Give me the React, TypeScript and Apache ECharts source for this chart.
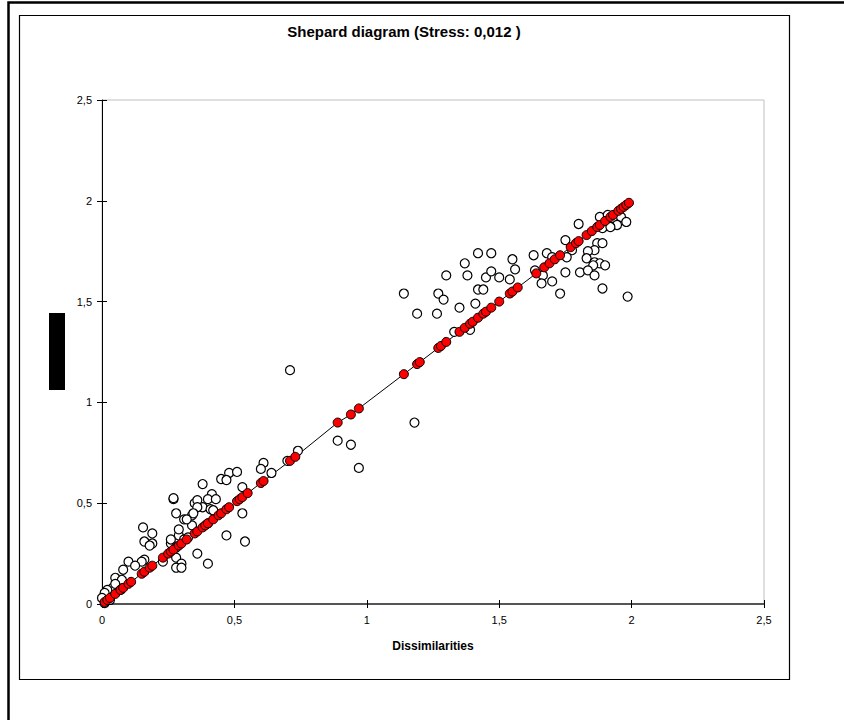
import React, { useEffect, useRef } from "react";
import * as echarts from "echarts";

const TITLE = "Shepard diagram (Stress: 0,012 )";
const X_NAME = "Dissimilarities";

// Distances (white points)
const distX = [
  0.28, 0.27, 0.35, 0.38, 0.41, 0.31, 0.34, 0.34, 0.155, 0.19, 0.16, 0.19, 0.29, 0.31, 0.26, 0.28,
  0.36, 0.4, 0.23, 0.28, 0.3, 0.28, 0.3, 0.16, 0.15, 0.1, 0.125, 0.08, 0.05, 0.075, 0.04, 0.02,
  0.01, 0.0, 0.01, 0.03, 0.05, 0.07, 0.74, 0.7, 0.64, 0.61, 0.6, 0.48, 0.51, 0.45, 0.47, 0.38,
  0.53, 0.27, 0.36, 0.415, 0.4, 0.43, 0.36, 0.42, 0.345, 0.32, 0.53, 0.29, 0.4, 0.47, 0.54, 0.26,
  0.325, 0.18, 0.71, 0.89, 0.94, 0.97, 1.18, 1.14, 1.19, 1.265, 1.27, 1.29, 1.3, 1.35, 1.37, 1.38,
  1.41, 1.42, 1.45, 1.47, 1.47, 1.5, 1.42, 1.44, 1.54, 1.55, 1.56, 1.39, 1.33, 1.88, 1.91, 1.93,
  1.96, 1.98, 1.945, 1.89, 1.92, 1.8, 1.87, 1.86, 1.835, 1.89, 1.75, 1.775, 1.755, 1.68, 1.7, 1.63,
  1.83, 1.86, 1.88, 1.9, 1.855, 1.635, 1.665, 1.66, 1.7, 1.75, 1.805, 1.835, 1.86, 1.73, 1.89, 1.985,
];
const distY = [
  0.45, 0.52, 0.5, 0.48, 0.47, 0.42, 0.44, 0.39, 0.38, 0.35, 0.31, 0.3, 0.34, 0.32, 0.3, 0.28,
  0.25, 0.2, 0.21, 0.23, 0.2, 0.18, 0.18, 0.22, 0.21, 0.21, 0.19, 0.17, 0.13, 0.12, 0.08, 0.07,
  0.055, 0.03, 0.005, 0.02, 0.1, 0.07, 0.76, 0.71, 0.65, 0.7, 0.67, 0.65, 0.655, 0.62, 0.615, 0.595,
  0.58, 0.525, 0.515, 0.545, 0.52, 0.52, 0.48, 0.465, 0.45, 0.42, 0.45, 0.37, 0.4, 0.34, 0.31, 0.32,
  0.33, 0.29, 1.16, 0.81, 0.79, 0.675, 0.9, 1.54, 1.44, 1.44, 1.54, 1.51, 1.63, 1.47, 1.69, 1.63,
  1.49, 1.74, 1.62, 1.74, 1.65, 1.62, 1.56, 1.56, 1.61, 1.71, 1.66, 1.36, 1.35, 1.92, 1.93, 1.915,
  1.92, 1.895, 1.88, 1.865, 1.87, 1.885, 1.79, 1.755, 1.75, 1.79, 1.805, 1.755, 1.72, 1.74, 1.72, 1.73,
  1.715, 1.695, 1.69, 1.68, 1.68, 1.655, 1.63, 1.59, 1.6, 1.645, 1.645, 1.655, 1.63, 1.54, 1.565, 1.525,
];

// Disparities (red points, joined by the line)
const dispX = [
  0.01, 0.02, 0.03, 0.05, 0.07, 0.08, 0.1, 0.11, 0.15, 0.16, 0.18, 0.19, 0.23, 0.25, 0.26, 0.27,
  0.29, 0.3, 0.32, 0.35, 0.36, 0.38, 0.39, 0.4, 0.42, 0.44, 0.45, 0.47, 0.48, 0.51, 0.52, 0.53,
  0.55, 0.6, 0.61, 0.71, 0.73, 0.89, 0.94, 0.97, 1.14, 1.19, 1.2, 1.27, 1.28, 1.3, 1.35, 1.37,
  1.39, 1.4, 1.42, 1.44, 1.45, 1.47, 1.5, 1.54, 1.55, 1.57, 1.64, 1.67, 1.69, 1.71, 1.73, 1.77,
  1.79, 1.8, 1.83, 1.85, 1.87, 1.88, 1.9, 1.92, 1.93, 1.95, 1.96, 1.97, 1.98, 1.99,
];
const dispY = [
  0.01, 0.02, 0.03, 0.05, 0.07, 0.08, 0.1, 0.11, 0.15, 0.16, 0.18, 0.19, 0.23, 0.25, 0.26, 0.27,
  0.29, 0.3, 0.32, 0.35, 0.36, 0.38, 0.39, 0.4, 0.42, 0.44, 0.45, 0.47, 0.48, 0.51, 0.52, 0.53,
  0.55, 0.6, 0.61, 0.71, 0.73, 0.9, 0.94, 0.97, 1.14, 1.19, 1.2, 1.27, 1.28, 1.3, 1.35, 1.37,
  1.39, 1.4, 1.42, 1.44, 1.45, 1.47, 1.5, 1.54, 1.55, 1.57, 1.64, 1.67, 1.69, 1.71, 1.73, 1.77,
  1.79, 1.8, 1.83, 1.85, 1.87, 1.88, 1.9, 1.92, 1.93, 1.95, 1.96, 1.97, 1.98, 1.99,
];

const FONT = "Arial, 'Liberation Sans', sans-serif";
const fmt = (v: number) => String(v).replace(".", ",");

export default function App() {
  const ref = useRef<HTMLDivElement>(null);
  useEffect(() => {
    if (!ref.current) return;
    const chart = echarts.init(ref.current, undefined, { renderer: "svg" });
    const dist = distX.map((x, i) => [x, distY[i]]);
    const disp = dispX.map((x, i) => [x, dispY[i]]);
    const baseAxis = {
      type: "value" as const,
      min: 0,
      max: 2.5,
      interval: 0.5,
      splitLine: { show: false },
    };
    chart.setOption({
      animation: false,
      backgroundColor: "#ffffff",
      grid: {
        left: 102,
        top: 100,
        width: 662,
        height: 504,
        show: true,
        borderColor: "#c0c0c0",
        borderWidth: 1,
        backgroundColor: "transparent",
      },
      xAxis: [
        {
          ...baseAxis,
          position: "bottom",
          axisLine: { show: true, lineStyle: { color: "#555555", width: 2 } },
          axisTick: { show: true, inside: false, length: 4, lineStyle: { color: "#000", width: 1 } },
          axisLabel: { color: "#000", fontSize: 11, fontFamily: FONT, margin: 10, formatter: fmt },
        },
        {
          ...baseAxis,
          position: "bottom",
          axisLine: { show: false },
          axisTick: { show: true, inside: true, length: 4, lineStyle: { color: "#000", width: 1 } },
          axisLabel: { show: false },
        },
      ],
      yAxis: [
        {
          ...baseAxis,
          position: "left",
          axisLine: { show: true, lineStyle: { color: "#000", width: 1 } },
          axisTick: { show: true, inside: false, length: 5, lineStyle: { color: "#000", width: 1 } },
          axisLabel: { color: "#000", fontSize: 11, fontFamily: FONT, margin: 10, formatter: fmt },
        },
        {
          ...baseAxis,
          position: "left",
          axisLine: { show: false },
          axisTick: { show: true, inside: true, length: 5, lineStyle: { color: "#000", width: 1 } },
          axisLabel: { show: false },
        },
      ],
      graphic: [
        {
          type: "rect",
          shape: { x: 8.5, y: 2.5, width: 900, height: 800 },
          style: { fill: "none", stroke: "#000", lineWidth: 2.5 },
          silent: true,
        },
        {
          type: "rect",
          shape: { x: 19.5, y: 15.5, width: 770, height: 664 },
          style: { fill: "none", stroke: "#000", lineWidth: 1.2 },
          silent: true,
        },
        {
          type: "rect",
          shape: { x: 49, y: 313, width: 16, height: 77 },
          style: { fill: "#000" },
          silent: true,
        },
        {
          type: "text",
          x: 404,
          y: 31,
          style: {
            text: TITLE,
            fill: "#000",
            font: `bold 15px ${FONT}`,
            textAlign: "center",
            textVerticalAlign: "middle",
          },
          silent: true,
        },
        {
          type: "text",
          x: 433,
          y: 646,
          style: {
            text: X_NAME,
            fill: "#000",
            font: `bold 12px ${FONT}`,
            textAlign: "center",
            textVerticalAlign: "middle",
          },
          silent: true,
        },
      ],
      series: [
        {
          type: "line",
          xAxisIndex: 0,
          yAxisIndex: 0,
          data: disp,
          showSymbol: false,
          symbol: "none",
          lineStyle: { color: "#000", width: 1 },
          z: 2,
        },
        {
          type: "scatter",
          xAxisIndex: 0,
          yAxisIndex: 0,
          data: dist,
          symbol: "circle",
          symbolSize: 9,
          itemStyle: { color: "#ffffff", borderColor: "#000", borderWidth: 1.2, opacity: 1 },
          z: 3,
        },
        {
          type: "scatter",
          xAxisIndex: 0,
          yAxisIndex: 0,
          data: disp,
          symbol: "circle",
          symbolSize: 9,
          itemStyle: { color: "#ff0000", borderColor: "#000", borderWidth: 1, opacity: 1 },
          z: 4,
        },
      ],
    });
    return () => chart.dispose();
  }, []);
  return (
    <div style={{ position: "absolute", left: 0, top: 0 }}>
      <div ref={ref} style={{ width: 844, height: 720 }} />
    </div>
  );
}
